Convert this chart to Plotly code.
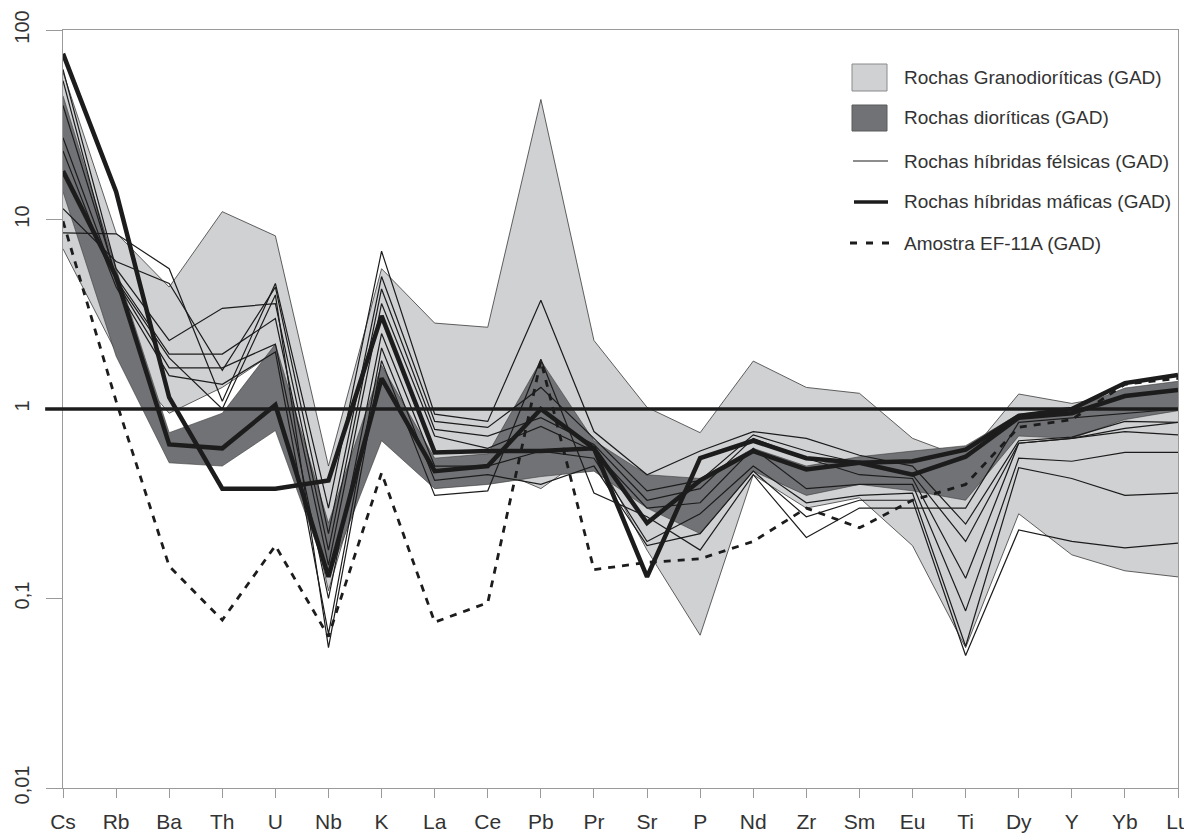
import plotly.graph_objects as go

elements = ["Cs", "Rb", "Ba", "Th", "U", "Nb", "K", "La", "Ce", "Pb", "Pr",
            "Sr", "P", "Nd", "Zr", "Sm", "Eu", "Ti", "Dy", "Y", "Yb", "Lu"]

# Envelope: Rochas Granodioríticas (GAD)
gran_upper = [60, 8.5, 4.4, 11, 8.2, 0.5, 5.5, 2.84, 2.7, 43, 2.3,
              1.02, 0.75, 1.79, 1.3, 1.21, 0.70, 0.55, 1.2, 1.07, 1.2, 1.35]
gran_lower = [7.0, 2.0, 0.95, 1.3, 2.0, 0.11, 1.0, 0.5, 0.5, 0.38, 0.6,
              0.18, 0.064, 0.45, 0.3, 0.34, 0.19, 0.055, 0.28, 0.17, 0.14, 0.13]

# Envelope: Rochas dioríticas (GAD)
dior_upper = [45, 5.5, 0.75, 0.95, 2.2, 0.25, 1.7, 0.55, 0.58, 1.8, 0.68,
              0.45, 0.43, 0.62, 0.5, 0.56, 0.6, 0.64, 0.94, 1.0, 1.29, 1.4]
dior_lower = [14, 1.9, 0.52, 0.5, 0.77, 0.13, 0.68, 0.38, 0.40, 0.44, 0.47,
              0.3, 0.22, 0.47, 0.35, 0.40, 0.37, 0.33, 0.72, 0.70, 0.88, 0.98]

# Rochas híbridas félsicas (GAD)
felsic_1 = [8.5, 8.4, 5.5, 1.1, 4.6, 0.3, 6.8, 0.94, 0.86, 3.75, 0.76,
            0.45, 0.6, 0.76, 0.7, 0.57, 0.5, 0.247, 0.68, 0.71, 0.86, 0.85]
felsic_2 = [11.4, 6.0, 4.6, 1.6, 4.4, 0.22, 5.0, 0.86, 0.8, 1.3, 0.7,
            0.37, 0.42, 0.73, 0.6, 0.52, 0.45, 0.2, 0.66, 0.70, 0.79, 0.85]
felsic_3 = [62, 5.5, 2.3, 3.4, 3.6, 0.18, 4.3, 0.78, 0.72, 0.9, 0.65,
            0.33, 0.38, 0.7, 0.55, 0.45, 0.43, 0.128, 0.66, 0.70, 0.76, 0.73]
felsic_4 = [40, 5.0, 1.95, 1.95, 3.0, 0.15, 3.6, 0.72, 0.62, 0.81, 0.6,
            0.3, 0.32, 0.62, 0.38, 0.4, 0.4, 0.086, 0.55, 0.53, 0.59, 0.59]
felsic_5 = [27, 4.7, 1.65, 1.65, 2.2, 0.1, 2.5, 0.5, 0.5, 0.6, 0.55,
            0.2, 0.28, 0.5, 0.32, 0.35, 0.36, 0.056, 0.49, 0.43, 0.35, 0.36]
felsic_6 = [23, 4.4, 1.5, 1.35, 2.0, 0.065, 2.1, 0.42, 0.45, 0.4, 0.5,
            0.19, 0.22, 0.47, 0.27, 0.33, 0.33, 0.05, 0.23, 0.2, 0.185, 0.196]
felsic_7 = [54, 4.8, 1.86, 1.0, 4.0, 0.055, 1.8, 0.35, 0.37, 1.83, 0.36,
            0.27, 0.18, 0.45, 0.21, 0.3, 0.3, 0.3, 0.85, 0.9, 0.95, 1.0]

# Rochas híbridas máficas (GAD)
mafic_1 = [75, 14, 1.15, 0.38, 0.38, 0.42, 3.1, 0.59, 0.6, 0.6, 0.62,
           0.13, 0.55, 0.68, 0.55, 0.52, 0.45, 0.56, 0.9, 0.95, 1.17, 1.26]
mafic_2 = [18, 5.0, 0.65, 0.62, 1.05, 0.13, 1.45, 0.47, 0.5, 1.0, 0.62,
           0.25, 0.42, 0.6, 0.48, 0.52, 0.53, 0.61, 0.92, 1.0, 1.37, 1.51]

# Amostra EF-11A (GAD)
ef11a = [9.8, 1.1, 0.148, 0.077, 0.19, 0.063, 0.46, 0.075, 0.095, 1.8, 0.142,
         0.155, 0.162, 0.2, 0.30, 0.236, 0.33, 0.40, 0.8, 0.88, 1.35, 1.45]

reference_value = 1

y_tickvals = [0.01, 0.1, 1, 10, 100]
y_ticktext = ["0,01", "0,1", "1", "10", "100"]

legend_labels = ["Rochas Granodioríticas (GAD)", "Rochas dioríticas (GAD)",
                 "Rochas híbridas félsicas (GAD)", "Rochas híbridas máficas (GAD)",
                 "Amostra EF-11A (GAD)"]

LIGHT = "#d0d1d3"
DARK = "#717275"
INK = "#1c1c1c"
AXIS = "#9a9a9a"
FONT = "Liberation Sans, Arial, sans-serif"

fig = go.Figure()

# light grey envelope
fig.add_trace(go.Scatter(x=elements, y=gran_lower, mode="lines",
                         line=dict(color="#3a3a3a", width=0.8),
                         showlegend=False, hoverinfo="skip"))
fig.add_trace(go.Scatter(x=elements, y=gran_upper, mode="lines", fill="tonexty",
                         fillcolor=LIGHT, line=dict(color="#3a3a3a", width=0.8),
                         showlegend=False, hoverinfo="skip"))
# dark grey envelope
fig.add_trace(go.Scatter(x=elements, y=dior_lower, mode="lines",
                         line=dict(color="#3a3a3a", width=0.6),
                         showlegend=False, hoverinfo="skip"))
fig.add_trace(go.Scatter(x=elements, y=dior_upper, mode="lines", fill="tonexty",
                         fillcolor=DARK, line=dict(color="#3a3a3a", width=0.6),
                         showlegend=False, hoverinfo="skip"))

for s in [felsic_1, felsic_2, felsic_3, felsic_4, felsic_5, felsic_6, felsic_7]:
    fig.add_trace(go.Scatter(x=elements, y=s, mode="lines",
                             line=dict(color=INK, width=1.2),
                             showlegend=False))

fig.add_trace(go.Scatter(x=elements, y=ef11a, mode="lines",
                         line=dict(color=INK, width=2.8, dash="7px,7px"),
                         showlegend=False))

for s in [mafic_1, mafic_2]:
    fig.add_trace(go.Scatter(x=elements, y=s, mode="lines",
                             line=dict(color=INK, width=4.5),
                             showlegend=False))

# reference line at 1 (extends slightly left of the axis)
fig.add_shape(type="line", xref="paper", yref="y", x0=-0.016, x1=1.0,
              y0=reference_value, y1=reference_value,
              line=dict(color=INK, width=3.5), layer="above")

# manual legend (page pixel -> paper)
L, R, T, B = 63, 1178, 30, 788
def px(xp):
    return (xp - L) / (R - L)
def py(yp):
    return (B - yp) / (B - T)

rows_y = [77, 118, 161, 202, 243]
sx0, sx1 = 852, 887
fig.add_shape(type="rect", xref="paper", yref="paper", x0=px(sx0), x1=px(sx1),
              y0=py(91), y1=py(64), fillcolor=LIGHT, line=dict(color="#8a8a8a", width=1))
fig.add_shape(type="rect", xref="paper", yref="paper", x0=px(sx0), x1=px(sx1),
              y0=py(131), y1=py(105), fillcolor=DARK, line=dict(color="#5a5a5a", width=1))
fig.add_shape(type="line", xref="paper", yref="paper", x0=px(853), x1=px(888),
              y0=py(rows_y[2]), y1=py(rows_y[2]), line=dict(color=INK, width=1.2))
fig.add_shape(type="line", xref="paper", yref="paper", x0=px(854), x1=px(888),
              y0=py(rows_y[3]), y1=py(rows_y[3]), line=dict(color=INK, width=3.5))
fig.add_shape(type="line", xref="paper", yref="paper", x0=px(850), x1=px(889),
              y0=py(rows_y[4]), y1=py(rows_y[4]),
              line=dict(color=INK, width=2.8, dash="7px,9px"))
for lbl, yy in zip(legend_labels, rows_y):
    fig.add_annotation(xref="paper", yref="paper", x=px(902), y=py(yy),
                       text=lbl, showarrow=False, xanchor="left", yanchor="middle",
                       font=dict(family=FONT, size=19, color="#333333"))

# the page body adds an 8px offset, so the figure is sized to fit inside the window
fig.update_layout(
    width=1184, height=825,
    margin=dict(l=55, r=14, t=22, b=45, autoexpand=False),
    paper_bgcolor="white", plot_bgcolor="white",
    font=dict(family=FONT, color="#333333", size=20),
    showlegend=False,
)
fig.update_xaxes(
    type="category", range=[0, 21], categoryorder="array", categoryarray=elements,
    automargin=False,
    showline=True, linecolor=AXIS, linewidth=1, mirror=True,
    ticks="outside", ticklen=9, tickcolor=AXIS, tickwidth=1,
    showgrid=False, zeroline=False, ticklabelstandoff=6,
    tickfont=dict(family=FONT, size=21, color="#333333"),
)
fig.update_yaxes(
    type="log", range=[-2, 2], automargin=False,
    tickvals=y_tickvals, ticktext=y_ticktext, tickangle=-90,
    showline=True, linecolor=AXIS, linewidth=1, mirror=True,
    ticks="outside", ticklen=16, tickcolor=AXIS, tickwidth=1,
    showgrid=False, zeroline=False, ticklabelstandoff=9,
    tickfont=dict(family=FONT, size=20, color="#333333"),
)

fig.write_html("out.html")
